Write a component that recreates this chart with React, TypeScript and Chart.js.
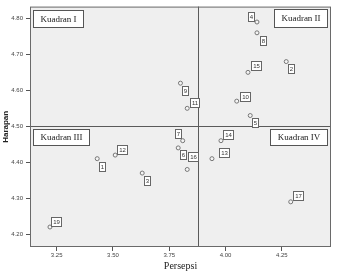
import React, { useEffect, useRef } from 'react';
import { Chart, registerables } from 'chart.js';

Chart.register(...registerables);

// ---- data ----
const ids = [1, 2, 3, 4, 5, 6, 7, 8, 9, 10, 11, 12, 13, 14, 15, 16, 17, 19];
const persepsi = [3.43, 4.27, 3.63, 4.14, 4.11, 3.79, 3.81, 4.14, 3.80, 4.05, 3.83, 3.51, 3.94, 3.98, 4.10, 3.83, 4.29, 3.22];
const harapan = [4.41, 4.68, 4.37, 4.79, 4.53, 4.44, 4.46, 4.76, 4.62, 4.57, 4.55, 4.42, 4.41, 4.46, 4.65, 4.38, 4.29, 4.22];
const xTicks = [3.25, 3.5, 3.75, 4.0, 4.25];
const yTicks = [4.2, 4.3, 4.4, 4.5, 4.6, 4.7, 4.8];
const meanPersepsi = 3.88;
const meanHarapan = 4.5;
const quadrantNames = ['Kuadran I', 'Kuadran II', 'Kuadran III', 'Kuadran IV'];

// label placement (style): pixel offsets of the point-label boxes
const labelOffsets: Record<number, [number, number]> = {
  1: [5, 8], 2: [5, 7], 3: [5, 7], 4: [-6, -6], 5: [5, 7], 6: [5, 7], 7: [-5, -7],
  8: [6, 8], 9: [5, 7], 10: [8, -5], 11: [7, -6], 12: [7, -6], 13: [12, -6],
  14: [7, -6], 15: [8, -7], 16: [6, -13], 17: [7, -6], 19: [6, -6],
};

const decoPlugin = {
  id: 'deco',
  beforeDatasetsDraw(chart: any) {
    const { ctx, chartArea: a, scales } = chart;
    ctx.save();
    ctx.fillStyle = '#efefef';
    ctx.fillRect(a.left, a.top, a.right - a.left, a.bottom - a.top);
    const xm = Math.round(scales.x.getPixelForValue(meanPersepsi)) + 0.5;
    const ym = Math.round(scales.y.getPixelForValue(meanHarapan)) + 0.5;
    ctx.strokeStyle = '#5a5a5a';
    ctx.lineWidth = 1;
    ctx.beginPath();
    ctx.moveTo(xm, a.top);
    ctx.lineTo(xm, a.bottom);
    ctx.moveTo(a.left, ym);
    ctx.lineTo(a.right, ym);
    ctx.stroke();
    ctx.strokeStyle = '#6a6a6a';
    ctx.strokeRect(a.left + 0.5, a.top + 0.5, a.right - a.left - 1, a.bottom - a.top - 1);
    ctx.restore();
  },
  afterDatasetsDraw(chart: any) {
    const { ctx, chartArea: a, scales } = chart;
    ctx.save();
    // point labels
    ctx.font = '6px "Liberation Sans", Arial, sans-serif';
    ctx.textAlign = 'center';
    ctx.textBaseline = 'middle';
    ids.forEach((id, i) => {
      const px = scales.x.getPixelForValue(persepsi[i]);
      const py = scales.y.getPixelForValue(harapan[i]);
      const [dx, dy] = labelOffsets[id] || [6, -6];
      const t = String(id);
      const w = Math.round(ctx.measureText(t).width + 3);
      const h = 9;
      const cx = px + dx;
      const cy = py + dy;
      const bx = Math.round(cx - w / 2) + 0.5;
      const by = Math.round(cy - h / 2) + 0.5;
      ctx.fillStyle = '#ffffff';
      ctx.fillRect(bx, by, w, h);
      ctx.strokeStyle = '#666666';
      ctx.lineWidth = 1;
      ctx.strokeRect(bx, by, w, h);
      ctx.fillStyle = '#333333';
      ctx.fillText(t, bx + w / 2, by + h / 2 + 0.5);
    });
    // quadrant boxes
    const ym = scales.y.getPixelForValue(meanHarapan);
    ctx.font = '9px "Liberation Serif", "Times New Roman", serif';
    const drawBox = (text: string, x: number, y: number, alignRight: boolean, h: number) => {
      const w = Math.round(ctx.measureText(text).width + 14);
      const bx = Math.round(alignRight ? x - w : x) + 0.5;
      const by = Math.round(y) + 0.5;
      ctx.fillStyle = '#ffffff';
      ctx.fillRect(bx, by, w, h);
      ctx.strokeStyle = '#555555';
      ctx.strokeRect(bx, by, w, h);
      ctx.fillStyle = '#222222';
      ctx.fillText(text, bx + w / 2, by + h / 2 + 0.5);
    };
    drawBox(quadrantNames[0], a.left + 3, a.top + 3, false, 17);
    drawBox(quadrantNames[1], a.right - 4, a.top + 2, true, 18);
    drawBox(quadrantNames[2], a.left + 3, ym + 3, false, 16);
    drawBox(quadrantNames[3], a.right - 4, ym + 3, true, 16);
    ctx.restore();
  },
};

export default function App() {
  const ref = useRef<HTMLCanvasElement | null>(null);
  useEffect(() => {
    if (!ref.current) return;
    const chart = new Chart(ref.current, {
      type: 'scatter',
      data: {
        datasets: [
          {
            data: persepsi.map((x, i) => ({ x, y: harapan[i] })),
            pointRadius: 2,
            pointHoverRadius: 2,
            pointBorderWidth: 1,
            pointBorderColor: '#777777',
            pointBackgroundColor: '#f4f4f4',
          },
        ],
      },
      options: {
        responsive: false,
        animation: false,
        events: [],
        layout: { padding: { top: 3, right: 6, left: 0, bottom: 0 } },
        plugins: { legend: { display: false }, tooltip: { enabled: false } },
        scales: {
          x: {
            type: 'linear',
            min: 3.1313,
            max: 4.469,
            afterBuildTicks: (s: any) => { s.ticks = xTicks.map((v) => ({ value: v })); },
            afterFit: (s: any) => { s.height = 28; },
            grid: { drawOnChartArea: false, drawTicks: true, tickLength: 4, color: '#555555' },
            border: { display: false },
            ticks: {
              padding: 1,
              color: '#444444',
              font: { size: 6, family: '"Liberation Sans", Arial, sans-serif' },
              callback: (v: any) => Number(v).toFixed(2),
              maxRotation: 0,
            },
            title: {
              display: true,
              text: 'Persepsi',
              color: '#222222',
              font: { size: 10, family: '"Liberation Serif", "Times New Roman", serif' },
              padding: { top: 0, bottom: 3 },
            },
          },
          y: {
            type: 'linear',
            min: 4.1644,
            max: 4.8329,
            afterBuildTicks: (s: any) => { s.ticks = yTicks.map((v) => ({ value: v })); },
            afterFit: (s: any) => { s.width = 30; },
            grid: { drawOnChartArea: false, drawTicks: true, tickLength: 4, color: '#555555' },
            border: { display: false },
            ticks: {
              padding: 3,
              color: '#444444',
              font: { size: 6, family: '"Liberation Sans", Arial, sans-serif' },
              callback: (v: any) => Number(v).toFixed(2),
            },
            title: {
              display: true,
              text: 'Harapan',
              color: '#222222',
              font: { size: 8, weight: 'bold', family: '"Liberation Sans", Arial, sans-serif' },
              padding: { top: 1, bottom: 0 },
            },
          },
        },
      },
      plugins: [decoPlugin],
    });
    return () => chart.destroy();
  }, []);
  return (
    <div style={{ position: 'fixed', left: 0, top: 0, width: 337, height: 275, background: '#ffffff' }}>
      <canvas ref={ref} width={337} height={275} style={{ display: 'block' }} />
    </div>
  );
}
